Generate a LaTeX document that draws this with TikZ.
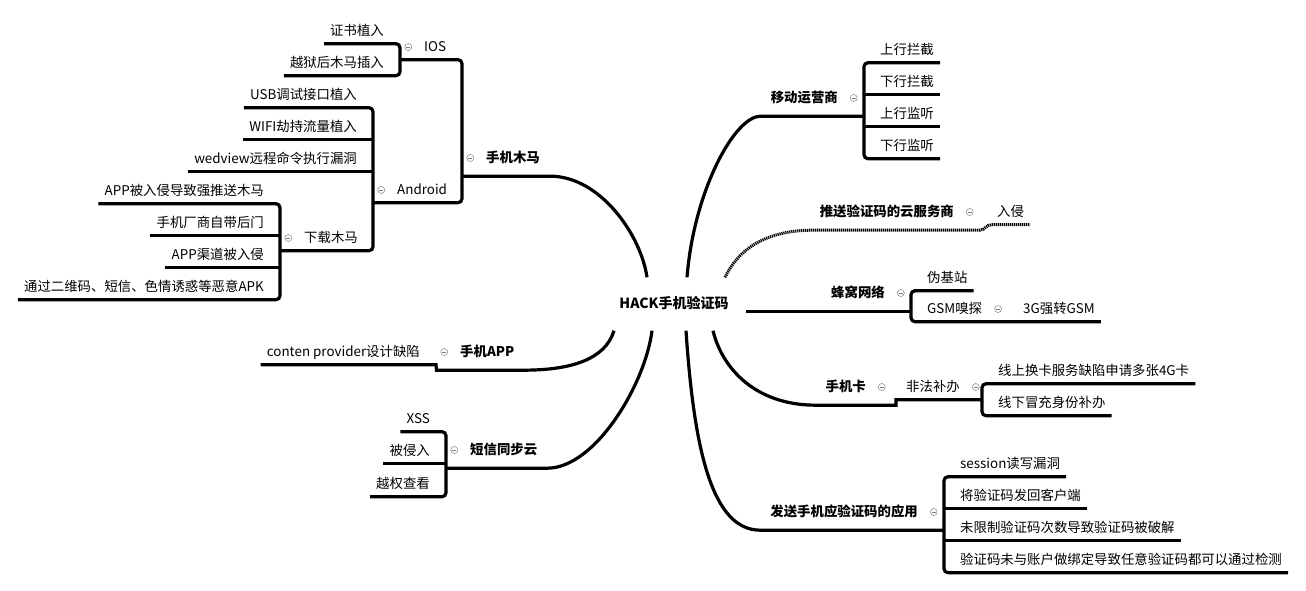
\documentclass[tikz,border=0pt]{standalone}
\usepackage{fontspec}
\setmainfont{Noto Sans CJK SC}
\usepackage{tikz}
\usetikzlibrary{positioning}

\begin{document}
\begin{tikzpicture}[x=1pt, y=-1pt,
    leaf/.style={font=\fontsize{13.4}{16}\selectfont, inner xsep=6pt, inner ysep=6pt, text height=11pt, text depth=2pt},
    main/.style={leaf, font=\fontsize{13.4}{16}\selectfont\bfseries, inner ysep=11.5pt},
    root/.style={font=\fontsize{14}{16}\selectfont\bfseries, inner xsep=17pt, inner ysep=20pt, text height=11pt, text depth=2pt},
    fold/.style={circle, draw=gray, line width=0.5pt, minimum size=7pt, inner sep=0pt,
        path picture={\draw [gray, line width=0.5pt] ([xshift=1.5pt]path picture bounding box.west) -- ([xshift=-1.5pt]path picture bounding box.east);}},
    arm/.style={line width=3.2pt, rounded corners=4pt},
    dotarm/.style={line width=3pt, dash pattern=on 1.2pt off 0.8pt}]
\fill [white] (0,0) rectangle (1306,590);
\useasboundingbox (0,0) rectangle (1306,590);

\node [root] (hack) at (674,304) {HACK手机验证码};

\coordinate (bIOS) at (400,0);
\coordinate (bMM) at (462,0);
\coordinate (bAnd) at (373,0);
\coordinate (bDL) at (280,0);
\coordinate (bApp) at (432,0);
\coordinate (bSms) at (446,0);
\coordinate (bMob) at (864,0);
\coordinate (bPush) at (980,0);
\coordinate (bCell) at (911,0);
\coordinate (bCard) at (892,0);
\coordinate (bIll) at (982,0);
\coordinate (bSend) at (944,0);

% 手机木马
\node [main, anchor=west] (mm) at (480,158) {手机木马};
\node [fold, left=6pt of mm] (fmm) {};
\node [leaf, anchor=west] (ios) at (418,47) {IOS};
\node [fold, left=6pt of ios] (fios) {};
\node [leaf, anchor=east] (cert) at (390,31) {证书植入};
\node [leaf, anchor=east] (jail) at (390,63) {越狱后木马插入};
\node [leaf, anchor=west] (andr) at (391,190) {Android};
\node [fold, left=6pt of andr] (fandr) {};
\node [leaf, anchor=east] (usb) at (363,95) {USB调试接口植入};
\node [leaf, anchor=east] (wifi) at (363,127) {WIFI劫持流量植入};
\node [leaf, anchor=east] (wv) at (363,159) {wedview远程命令执行漏洞};
\node [leaf, anchor=west] (dl) at (298,238) {下载木马};
\node [fold, left=6pt of dl] (fdl) {};
\node [leaf, anchor=east] (apk1) at (270,191) {APP被入侵导致强推送木马};
\node [leaf, anchor=east] (apk2) at (270,223) {手机厂商自带后门};
\node [leaf, anchor=east] (apk3) at (270,255) {APP渠道被入侵};
\node [leaf, anchor=east] (apk4) at (270,287) {通过二维码、短信、色情诱惑等恶意APK};

\draw [arm] (cert.south west) -- (cert.south -| bIOS) -- (jail.south -| bIOS) -- (jail.south west);
\draw [arm] (ios.south -| bIOS) -- (ios.south -| bMM) -- (andr.south -| bMM) -- (andr.south -| bAnd);
\draw [arm] (usb.south west) -- (usb.south -| bAnd) -- (dl.south -| bAnd) -- (dl.south -| bDL);
\draw [arm] (wifi.south west) -- (wifi.south -| bAnd);
\draw [arm] (wv.south west) -- (wv.south -| bAnd);
\draw [arm] (apk1.south west) -- (apk1.south -| bDL) -- (apk4.south -| bDL) -- (apk4.south west);
\draw [arm] (apk2.south west) -- (apk2.south -| bDL);
\draw [arm] (apk3.south west) -- (apk3.south -| bDL);
\draw [arm] (mm.south -| bMM) -- (mm.south east) .. controls (600,176) and (641,235) .. ([xshift=-27pt]hack.north);

% 手机APP
\node [main, anchor=west] (app) at (454,352) {手机APP};
\node [fold, left=6pt of app] (fapp) {};
\node [leaf, anchor=east] (cp) at (426,352) {conten provider设计缺陷};
\draw [arm] (cp.south west) -- (cp.south -| bApp) to[out=0,in=180] (app.south -| fapp.west) -- (app.south east) .. controls (570,370) and (605,360) .. ([xshift=-60pt]hack.south);

% 短信同步云
\node [main, anchor=west] (sms) at (464,450) {短信同步云};
\node [fold, left=6pt of sms] (fsms) {};
\node [leaf, anchor=east] (xss) at (436,419) {XSS};
\node [leaf, anchor=east] (inv) at (436,451) {被侵入};
\node [leaf, anchor=east] (ovr) at (436,484) {越权查看};
\draw [arm] (xss.south west) -- (xss.south -| bSms) -- (ovr.south -| bSms) -- (ovr.south west);
\draw [arm] (inv.south west) -- (inv.south -| bSms);
\draw [arm] (sms.south -| bSms) -- (sms.south east) .. controls (595,468) and (645,385) .. ([xshift=-22pt]hack.south);

% 移动运营商
\node [main, anchor=east] (mob) at (844,98) {移动运营商};
\node [fold, right=6pt of mob] (fmob) {};
\node [leaf, anchor=west] (sx1) at (874,50) {上行拦截};
\node [leaf, anchor=west] (xx1) at (874,82) {下行拦截};
\node [leaf, anchor=west] (sx2) at (874,114) {上行监听};
\node [leaf, anchor=west] (xx2) at (874,146) {下行监听};
\draw [arm] (sx1.south east) -- (sx1.south -| bMob) -- (xx2.south -| bMob) -- (xx2.south east);
\draw [arm] (xx1.south -| bMob) -- (xx1.south east);
\draw [arm] (sx2.south -| bMob) -- (sx2.south east);
\draw [arm] (mob.south -| bMob) -- (mob.south west) .. controls (735,116) and (694,190) .. ([xshift=13pt]hack.north);

% 推送验证码的云服务商
\node [main, anchor=east] (cloud) at (960,212) {推送验证码的云服务商};
\node [fold, right=6pt of cloud] (fcloud) {};
\node [leaf, anchor=west] (qin) at (991,212) {入侵};
\draw [dotarm] ([xshift=51pt]hack.north) .. controls (738,250) and (765,230) .. (cloud.south west) -- (cloud.south -| bPush) to[out=0,in=180] (qin.south west) -- (qin.south east);

% 蜂窝网络
\node [main, anchor=east] (cell) at (891,293) {蜂窝网络};
\node [fold, right=6pt of cell] (fcell) {};
\node [leaf, anchor=west] (fake) at (921,278) {伪基站};
\node [leaf, anchor=west] (gsm) at (921,309) {GSM嗅探};
\node [fold, right=6pt of gsm] (fgsm) {};
\node [leaf, anchor=west] (g3) at (1017,309) {3G强转GSM};
\draw [arm] (hack.east |- cell.south) -- (cell.south -| bCell);
\draw [arm] (fake.south east) -- (fake.south -| bCell) -- (gsm.south -| bCell) -- (g3.south east);

% 手机卡
\node [main, anchor=east] (card) at (872,387) {手机卡};
\node [fold, right=6pt of card] (fcard) {};
\node [leaf, anchor=west] (ill) at (900,387) {非法补办};
\node [fold, right=6pt of ill] (fill) {};
\node [leaf, anchor=west] (on) at (992,371) {线上换卡服务缺陷申请多张4G卡};
\node [leaf, anchor=west] (off) at (992,403) {线下冒充身份补办};
\draw [arm] ([xshift=39pt]hack.south) .. controls (722,368) and (755,405) .. (card.south west) -- (card.south -| bCard) to[out=0,in=180] (ill.south west) -- (ill.south -| bIll);
\draw [arm] (on.south east) -- (on.south -| bIll) -- (off.south -| bIll) -- (off.south east);

% 发送手机应验证码的应用
\node [main, anchor=east] (send) at (924,512) {发送手机应验证码的应用};
\node [fold, right=6pt of send] (fsend) {};
\node [leaf, anchor=west] (sess) at (954,464) {session读写漏洞};
\node [leaf, anchor=west] (ret) at (954,496) {将验证码发回客户端};
\node [leaf, anchor=west] (hid) at (954,528) {未限制验证码次数导致验证码被破解};
\node [leaf, anchor=west] (bind) at (954,560) {验证码未与账户做绑定导致任意验证码都可以通过检测};
\draw [arm] (sess.south east) -- (sess.south -| bSend) -- (bind.south -| bSend) -- (bind.south east);
\draw [arm] (ret.south -| bSend) -- (ret.south east);
\draw [arm] (hid.south -| bSend) -- (hid.south east);
\draw [arm] ([xshift=12pt]hack.south) .. controls (694,450) and (712,530) .. (send.south west) -- (send.south -| bSend);

\end{tikzpicture}
\end{document}
